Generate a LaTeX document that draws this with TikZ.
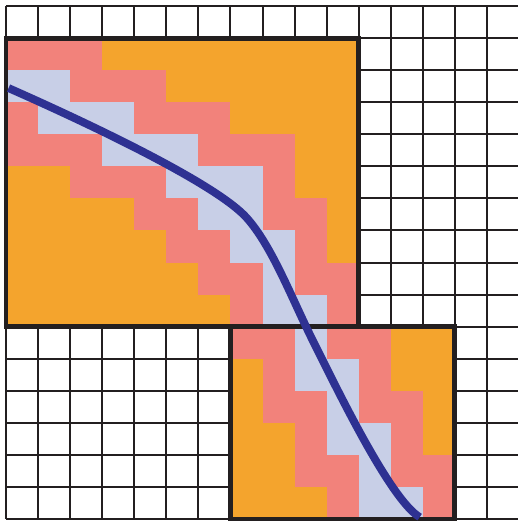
\documentclass[tikz,border=0pt]{standalone}
\usepackage{xcolor}
\definecolor{tileOrange}{HTML}{F4A42D}
\definecolor{tilePink}{HTML}{F2827B}
\definecolor{tileBlue}{HTML}{C8CFE7}
\definecolor{routeBlue}{HTML}{2E3192}
\definecolor{inkDark}{HTML}{231F20}
\tikzset{
    % Colors
    cellOrange/.style={fill=tileOrange},
    cellPink/.style={fill=tilePink},
    cellBlue/.style={fill=tileBlue},
    % Lines
    gridLine/.style={draw=inkDark, line width=0.9pt},
    box/.style={draw=inkDark, line width=2.2pt},
    route/.style={draw=routeBlue, line width=3.5pt}
}

\begin{document}
\begin{tikzpicture}[x=0.5cm, y=-0.5cm]
\useasboundingbox (-0.187,-0.187) rectangle (15.94,16.06);

% grid
\foreach \i in {0,...,16} {
    \draw[gridLine] (\i,0) -- (\i,16);
    \draw[gridLine] (0,\i) -- (16,\i);
}

% upper block
\fill[cellOrange] (0,1) rectangle (11,10);
\foreach \r/\cs in {1/{0,1,2}, 2/{2,3,4}, 3/{0,4,5,6}, 4/{0,1,2,6,7,8},
                    5/{2,3,4,8}, 6/{4,5,8,9}, 7/{5,6,9}, 8/{6,7,9,10}, 9/{7,10}}
    \foreach \c in \cs
        \fill[cellPink] (\c,\r) rectangle ++(1,1);
\foreach \r/\cs in {2/{0,1}, 3/{1,2,3}, 4/{3,4,5}, 5/{5,6,7},
                    6/{6,7}, 7/{7,8}, 8/{8}, 9/{8,9}}
    \foreach \c in \cs
        \fill[cellBlue] (\c,\r) rectangle ++(1,1);

% lower block
\fill[cellOrange] (7,10) rectangle (14,16);
\foreach \r/\cs in {10/{7,8,10,11}, 11/{8,11}, 12/{8,9,11,12},
                    13/{9,12}, 14/{9,10,12,13}, 15/{10,13}}
    \foreach \c in \cs
        \fill[cellPink] (\c,\r) rectangle ++(1,1);
\foreach \r/\cs in {10/{9}, 11/{9,10}, 12/{10}, 13/{10,11}, 14/{11}, 15/{11,12}}
    \foreach \c in \cs
        \fill[cellBlue] (\c,\r) rectangle ++(1,1);

\draw[box] (0,1) rectangle (11,10);
\draw[box] (7,10) rectangle (14,16);

% path through the tiles
\coordinate (pathStart) at (0.08,2.56);
\coordinate (pathBend) at (7.5,6.6);
\coordinate (pathMid) at (9.6,10.5);
\coordinate (pathEnd) at (12.9,15.94);
\draw[route] (pathStart) .. controls (3,3.85) and (6.6,5.6) .. (pathBend)
    .. controls (8.3,7.49) and (8.9,9.1) .. (pathMid)
    .. controls (10.4,12.1) and (12.0,15.4) .. (pathEnd);

\end{tikzpicture}
\end{document}
